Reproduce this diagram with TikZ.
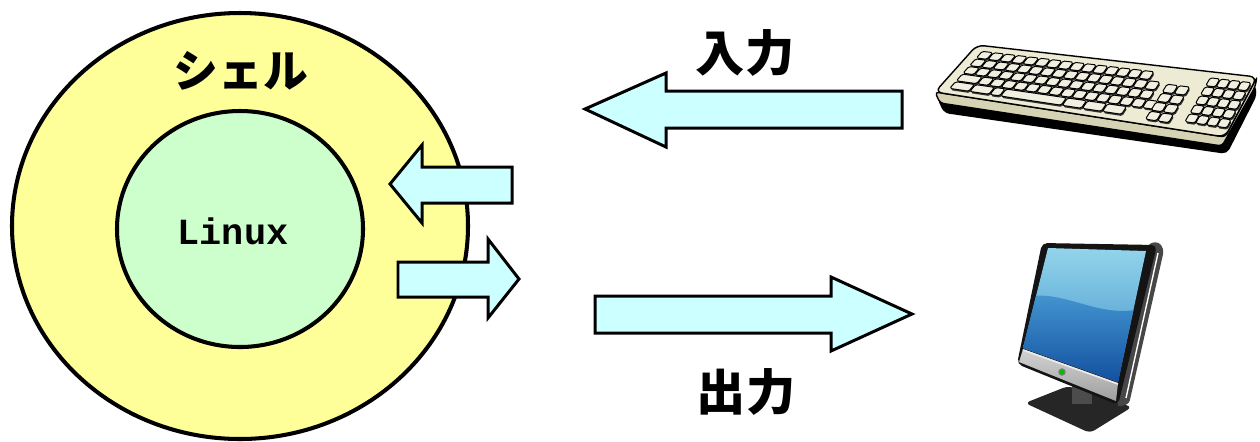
\documentclass[tikz,border=0pt]{standalone}
\usepackage{fontspec}
\newfontfamily\cjk{Noto Sans CJK JP}
\newfontfamily\codefont{Liberation Mono}
\definecolor{shellfill}{HTML}{FFFF99}
\definecolor{kernelfill}{HTML}{CCFFCC}
\definecolor{arrowfill}{HTML}{CCFFFF}
\definecolor{kbbody}{HTML}{EDEBD3}
\definecolor{kbfront}{HTML}{D6D3B4}
\definecolor{keyface}{HTML}{F1EFDF}
\definecolor{scrtop}{HTML}{92D4EA}
\definecolor{scrbot}{HTML}{3C8CCB}
\definecolor{wavetop}{HTML}{4A9ED6}
\definecolor{wavebot}{HTML}{0E4A9C}
\tikzset{
  ring/.style={draw=black, line width=2.3pt},
  blockarrow/.style={draw=black, line width=1.7pt, fill=arrowfill, line join=miter},
  keycap/.style={draw=black, line width=0.55pt, fill=keyface, rounded corners=0.9pt},
  keybase/.style={fill=black!80, rounded corners=0.9pt},
  bigjp/.style={font=\cjk\bfseries\fontsize{28}{32}\selectfont}
}
\newcommand{\kbpt}[3]{%
  \pgfmathsetmacro\kbx{977+280*#2-42*#3+10*#2*#3}%
  \pgfmathsetmacro\kby{45+32*#2+47*#3+13*#2*#3}%
  \coordinate (#1) at (\kbx,\kby);}
\newcommand{\kbkey}[4]{%
  \pgfmathsetmacro\kbsa{#1}\pgfmathsetmacro\kbsb{#1+#3}%
  \pgfmathsetmacro\kbta{#2}\pgfmathsetmacro\kbtb{#2+#4}%
  \kbpt{ka}{\kbsa}{\kbta}\kbpt{kb}{\kbsb}{\kbta}%
  \kbpt{kc}{\kbsb}{\kbtb}\kbpt{kd}{\kbsa}{\kbtb}%
  \fill[keybase] ([shift={(0.8,1.8)}]ka) -- ([shift={(0.8,1.8)}]kb) -- ([shift={(0.8,1.8)}]kc) -- ([shift={(0.8,1.8)}]kd) -- cycle;
  \draw[keycap] (ka) -- (kb) -- (kc) -- (kd) -- cycle;}
\begin{document}
\begin{tikzpicture}[x=0.02cm,y=-0.02cm]
\useasboundingbox (0,0) rectangle (1260,441);

\draw[ring, fill=shellfill] (240,226) ellipse [x radius=228, y radius=213];
\draw[ring, fill=kernelfill] (240,229) ellipse [x radius=123, y radius=118];
\node[font=\cjk\bfseries\fontsize{25.5}{30}\selectfont] (shell) at (241,71) {シェル};
\node[font=\codefont\bfseries\fontsize{21}{25}\selectfont] (kernel) at (233,231) {Linux};

\draw[blockarrow] (390,184) -- (422,145) -- (422,167) -- (512,167) -- (512,203) -- (422,203) -- (422,223) -- cycle;
\draw[blockarrow] (398,262) -- (488,262) -- (488,239) -- (519,279) -- (488,318) -- (488,297) -- (398,297) -- cycle;
\draw[blockarrow] (585,109) -- (666,73) -- (666,91) -- (902,91) -- (902,128) -- (666,128) -- (666,147) -- cycle;
\draw[blockarrow] (595,296) -- (831,296) -- (831,277) -- (912,314) -- (831,351) -- (831,333) -- (595,333) -- cycle;
\node[bigjp] (input) at (745,53) {入力};
\node[bigjp] (output) at (746,392) {出力};

% keyboard
\fill[black, rounded corners=3pt] (937,98) -- (1222,143) -- (1255,84) -- (1257,95) -- (1227,154) -- (944,113) -- cycle;
\draw[fill=kbfront, line width=0.8pt, rounded corners=2pt] (935,92) -- (1225,137) -- (1257,77) -- (1255,87) -- (1222,146) -- (940,103) -- cycle;
\draw[fill=kbbody, line width=0.8pt, rounded corners=4pt] (977,45) -- (1257,77) -- (1225,137) -- (935,92) -- cycle;
\foreach \r/\n in {0/14,1/15,2/15}
  \foreach \c in {0,...,\n}
    \kbkey{0.035+0.041*\c}{0.11+0.16*\r}{0.037}{0.14};
\kbkey{0.035}{0.59}{0.07}{0.14}
\foreach \c in {0,...,14}
  \kbkey{0.035+0.041*(\c+1.8)}{0.59}{0.037}{0.14};
\foreach \s/\w in {0/1.7,1.7/1.7,3.4/0.9,4.3/5.2,9.5/1.7,11.2/1.7,12.9/1.7}
  \kbkey{0.035+0.041*\s}{0.75}{0.041*\w-0.004}{0.14};
\foreach \r in {0,...,3}
  \foreach \c in {0,1}
    \kbkey{0.715+0.042*\c}{0.29+0.16*\r}{0.038}{0.14};
\foreach \r in {0,...,4}
  \foreach \c in {0,...,3}
    \kbkey{0.845+0.037*\c}{0.1+0.155*\r}{0.034}{0.135};

% monitor
\fill[black!85, rounded corners=3pt] (1025,403) -- (1068,386) -- (1132,407) -- (1090,433) -- cycle;
\fill[black!70] (1072,384) rectangle (1092,404);
\fill[black!72, rounded corners=2pt] (1149,243) -- (1159,242) -- (1164,250) -- (1129,404) -- (1117,407) -- cycle;
\draw[white, line width=0.8pt] (1158,253) -- (1126,398);
\fill[black!92, rounded corners=3pt] (1042,243) -- (1157,245) -- (1118,405) -- (1017,364) -- cycle;
\shade[top color=gray!35, bottom color=gray!75] (1023,349) -- (1118,383) -- (1116,401) -- (1019,362) -- cycle;
\draw[gray!15, line width=0.9pt] (1023,350) -- (1118,384);
\shade[top color=scrtop, bottom color=scrbot] (1048,248) -- (1146,251) -- (1118,382) -- (1023,348) -- cycle;
\begin{scope}
\clip (1048,248) -- (1146,251) -- (1118,382) -- (1023,348) -- cycle;
\shade[top color=wavetop, bottom color=wavebot] (1015,300) .. controls (1060,282) and (1100,325) .. (1150,306) -- (1150,390) -- (1015,390) -- cycle;
\end{scope}
\draw[fill=green!75!black, draw=black!50, line width=0.6pt] (1062,372) circle [radius=3.2];
\end{tikzpicture}
\end{document}
